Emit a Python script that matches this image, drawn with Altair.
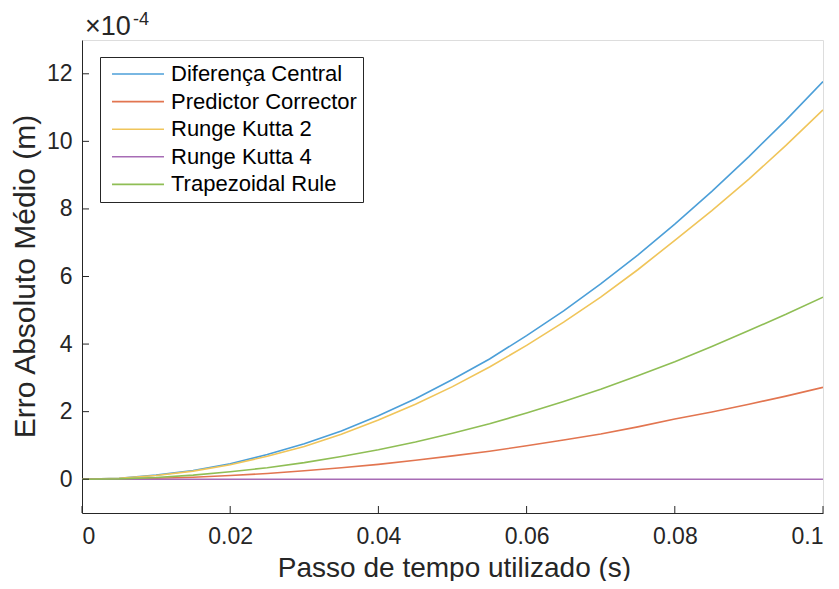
import altair as alt
import pandas as pd

# Step sizes (s)
passo = [0.0, 0.005, 0.01, 0.015, 0.02, 0.025, 0.03, 0.035, 0.04, 0.045, 0.05,
         0.055, 0.06, 0.065, 0.07, 0.075, 0.08, 0.085, 0.09, 0.095, 0.1]

# Mean absolute error, in units of 1e-4 m
dif_central = [0, 0.03, 0.12, 0.26, 0.46, 0.73, 1.05, 1.43, 1.88, 2.38, 2.95,
               3.56, 4.25, 4.98, 5.78, 6.63, 7.55, 8.52, 9.55, 10.63, 11.77]
pred_corr = [0, 0.01, 0.03, 0.06, 0.11, 0.17, 0.25, 0.34, 0.44, 0.56, 0.69,
             0.83, 0.99, 1.16, 1.34, 1.55, 1.78, 1.99, 2.22, 2.46, 2.72]
rk2 = [0, 0.03, 0.11, 0.24, 0.43, 0.68, 0.97, 1.33, 1.75, 2.22, 2.74,
       3.32, 3.96, 4.65, 5.39, 6.20, 7.07, 7.95, 8.88, 9.88, 10.93]
rk4 = [0, 0, 0, 0, 0, 0, 0, 0, 0, 0, 0,
       0, 0, 0, 0, 0, 0, 0, 0, 0, 0]
trap = [0, 0.01, 0.05, 0.12, 0.22, 0.34, 0.49, 0.67, 0.87, 1.10, 1.36,
        1.64, 1.96, 2.30, 2.66, 3.06, 3.48, 3.93, 4.40, 4.88, 5.39]

series_names = ["Diferença Central", "Predictor Corrector", "Runge Kutta 2",
                "Runge Kutta 4", "Trapezoidal Rule"]
series_vals = [dif_central, pred_corr, rk2, rk4, trap]
colors = ["#4c9fd8", "#e27550", "#f0c55a", "#a76cb5", "#8fbe55"]

x_ticks = [0, 0.02, 0.04, 0.06, 0.08, 0.1]
y_ticks = [0, 2, 4, 6, 8, 10, 12]

rows = []
for name, vals in zip(series_names, series_vals):
    for xv, yv in zip(passo, vals):
        rows.append({"passo": xv, "erro": yv, "serie": name})
df = pd.DataFrame(rows)

FONT = "Liberation Sans"
GRAY = "#262626"
W, H = 741, 473

xscale = alt.Scale(domain=[0, 0.1], nice=False, zero=False)
yscale = alt.Scale(domain=[-1, 13], nice=False, zero=False)

lines = alt.Chart(df).mark_line(strokeWidth=1.6, clip=True).encode(
    x=alt.X("passo:Q", scale=xscale,
            axis=alt.Axis(values=x_ticks, format="~g", title="Passo de tempo utilizado (s)",
                          grid=False, ticks=False, tickSize=0, labelPadding=12,
                          labelFontSize=23, labelFont=FONT, labelColor=GRAY,
                          domainColor=GRAY, domainWidth=1,
                          titleFont=FONT, titleFontSize=28, titleFontWeight="normal",
                          titleColor=GRAY, titleX=372, titleY=63,
                          titleBaseline="alphabetic", titleAlign="center")),
    y=alt.Y("erro:Q", scale=yscale,
            axis=alt.Axis(values=y_ticks, format="d", title="Erro Absoluto Médio (m)",
                          grid=False, ticks=False, tickSize=0, labelPadding=10,
                          labelFontSize=23, labelFont=FONT, labelColor=GRAY,
                          domainColor=GRAY, domainWidth=1,
                          titleFont=FONT, titleFontSize=30, titleFontWeight="normal",
                          titleColor=GRAY, titleX=-57, titleY=236, titleAngle=270,
                          titleBaseline="middle", titleAlign="center")),
    color=alt.Color("serie:N",
                    scale=alt.Scale(domain=series_names, range=colors),
                    legend=alt.Legend(title=None, orient="none", legendX=18, legendY=17,
                                      strokeColor="#262626", fillColor="white",
                                      padding=6, rowPadding=5.6,
                                      symbolType="M-3,0L3,0", symbolSize=300,
                                      symbolStrokeWidth=1.6, symbolOffset=21,
                                      labelOffset=22, labelLimit=0, labelFont=FONT,
                                      labelFontSize=22, labelColor="black", cornerRadius=0)),
)

ytick_df = pd.DataFrame({"v": y_ticks})
xtick_df = pd.DataFrame({"v": x_ticks})

ytick_marks = alt.Chart(ytick_df).mark_rule(color=GRAY, strokeWidth=1).encode(
    y=alt.Y("v:Q", scale=yscale), x=alt.value(0), x2=alt.value(7))
xtick_marks = alt.Chart(xtick_df).mark_rule(color=GRAY, strokeWidth=1).encode(
    x=alt.X("v:Q", scale=xscale), y=alt.value(H), y2=alt.value(H - 7))

exp_base = alt.Chart(pd.DataFrame({"t": ["×10"]})).mark_text(
    font=FONT, fontSize=27, color=GRAY, align="left", baseline="alphabetic").encode(
    text="t:N", x=alt.value(3), y=alt.value(-5))
exp_sup = alt.Chart(pd.DataFrame({"t": ["-4"]})).mark_text(
    font=FONT, fontSize=18, color=GRAY, align="left", baseline="alphabetic").encode(
    text="t:N", x=alt.value(51), y=alt.value(-15))

chart = alt.layer(lines, ytick_marks, xtick_marks, exp_base, exp_sup).properties(
    width=W, height=H,
    autosize=alt.AutoSizeParams(type="none"),
    padding={"left": 74, "top": 32, "right": 8, "bottom": 68},
).configure_view(stroke=None).configure(background="white")

chart.save("out.html", embed_options={"renderer": "svg", "actions": False})
